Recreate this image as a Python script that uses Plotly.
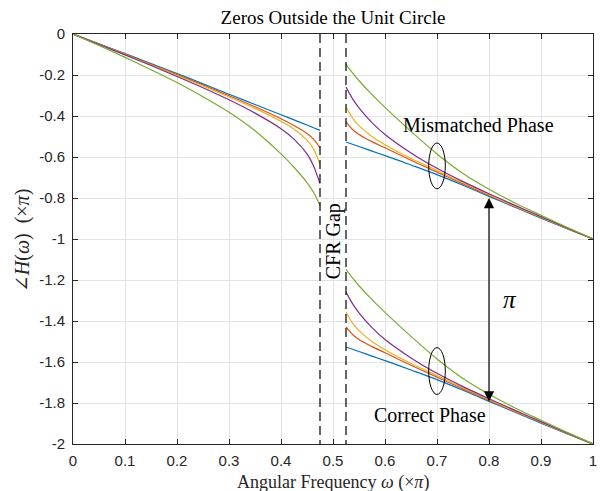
import plotly.graph_objects as go

# ---- data (phase in units of pi) ----
x_left = [0.0, 0.05, 0.1, 0.15, 0.2, 0.25, 0.3, 0.35, 0.4, 0.425, 0.45, 0.4625, 0.475]
left_blue   = [0, -0.048, -0.096, -0.144, -0.193, -0.243, -0.294, -0.344, -0.394, -0.419, -0.444, -0.457, -0.470]
left_orange = [0, -0.049, -0.098, -0.148, -0.198, -0.249, -0.301, -0.355, -0.413, -0.446, -0.485, -0.5125, -0.554]
left_yellow = [0, -0.050, -0.100, -0.151, -0.202, -0.254, -0.307, -0.363, -0.426, -0.465, -0.518, -0.5605, -0.636]
left_purple = [0, -0.051, -0.102, -0.154, -0.207, -0.262, -0.321, -0.386, -0.462, -0.513, -0.585, -0.6425, -0.730]
left_green  = [0, -0.056, -0.114, -0.174, -0.237, -0.306, -0.382, -0.472, -0.585, -0.650, -0.725, -0.772, -0.836]

x_right = [0.525, 0.5375, 0.55, 0.575, 0.6, 0.65, 0.7, 0.75, 0.8, 0.85, 0.9, 0.95, 1.0]
mis_blue   = [-0.527, -0.538, -0.549, -0.571, -0.593, -0.639, -0.686, -0.738, -0.792, -0.845, -0.898, -0.950, -1.0]
mis_orange = [-0.429, -0.466, -0.490, -0.525, -0.555, -0.616, -0.674, -0.731, -0.787, -0.842, -0.895, -0.948, -1.0]
mis_yellow = [-0.356, -0.410, -0.447, -0.500, -0.540, -0.607, -0.666, -0.726, -0.784, -0.840, -0.894, -0.947, -1.0]
mis_purple = [-0.259, -0.315, -0.360, -0.432, -0.490, -0.580, -0.655, -0.720, -0.779, -0.836, -0.891, -0.946, -1.0]
mis_green  = [-0.148, -0.190, -0.228, -0.296, -0.358, -0.475, -0.585, -0.680, -0.757, -0.824, -0.884, -0.943, -1.0]

cor_blue   = [-1.527, -1.538, -1.549, -1.571, -1.593, -1.639, -1.686, -1.738, -1.792, -1.845, -1.898, -1.950, -2.0]
cor_orange = [-1.429, -1.466, -1.490, -1.525, -1.555, -1.616, -1.674, -1.731, -1.787, -1.842, -1.895, -1.948, -2.0]
cor_yellow = [-1.356, -1.410, -1.447, -1.500, -1.540, -1.607, -1.666, -1.726, -1.784, -1.840, -1.894, -1.947, -2.0]
cor_purple = [-1.259, -1.315, -1.360, -1.432, -1.490, -1.580, -1.655, -1.720, -1.779, -1.836, -1.891, -1.946, -2.0]
cor_green  = [-1.148, -1.190, -1.228, -1.296, -1.358, -1.475, -1.585, -1.680, -1.757, -1.824, -1.884, -1.943, -2.0]

gap_edges = [0.475, 0.525]

x_ticks = [0, 0.1, 0.2, 0.3, 0.4, 0.5, 0.6, 0.7, 0.8, 0.9, 1]
x_ticktext = ["0", "0.1", "0.2", "0.3", "0.4", "0.5", "0.6", "0.7", "0.8", "0.9", "1"]
y_ticks = [0, -0.2, -0.4, -0.6, -0.8, -1, -1.2, -1.4, -1.6, -1.8, -2]
y_ticktext = ["0", "-0.2", "-0.4", "-0.6", "-0.8", "-1", "-1.2", "-1.4", "-1.6", "-1.8", "-2"]

colors = ["#0072BD", "#D95319", "#EDB120", "#7E2F8E", "#77AC30"]
left_sets = [left_blue, left_orange, left_yellow, left_purple, left_green]
mis_sets = [mis_blue, mis_orange, mis_yellow, mis_purple, mis_green]
cor_sets = [cor_blue, cor_orange, cor_yellow, cor_purple, cor_green]

fig = go.Figure()
for c, l, m, k in zip(colors, left_sets, mis_sets, cor_sets):
    for xs, ys in ((x_left, l), (x_right, m), (x_right, k)):
        fig.add_trace(go.Scatter(x=xs, y=ys, mode="lines",
                                 line=dict(color=c, width=1.2, shape="spline", smoothing=0.7),
                                 showlegend=False, hoverinfo="skip"))

for g in gap_edges:
    fig.add_trace(go.Scatter(x=[g, g], y=[0, -2], mode="lines",
                             line=dict(color="#000000", width=1.2, dash="9px,5px"),
                             showlegend=False, hoverinfo="skip"))

serif = "Liberation Serif, DejaVu Serif, serif"
sans = "Liberation Sans, Arial, sans-serif"

# ellipses
fig.add_shape(type="circle", xref="x", yref="y", x0=0.684, x1=0.716, y0=-0.755, y1=-0.532,
              line=dict(color="#000000", width=1))
fig.add_shape(type="circle", xref="x", yref="y", x0=0.684, x1=0.716, y0=-1.758, y1=-1.530,
              line=dict(color="#000000", width=1))

# double arrow
fig.add_annotation(x=0.8, y=-0.8, ax=0.8, ay=-1.8, xref="x", yref="y", axref="x", ayref="y",
                   text="", showarrow=True, arrowhead=2, startarrowhead=2, arrowside="end+start",
                   arrowsize=1.7, startarrowsize=1.7, arrowwidth=1.2, arrowcolor="#000000")

fig.add_annotation(x=0.779, y=-0.445, xref="x", yref="y", text="Mismatched Phase", showarrow=False,
                   font=dict(family=serif, size=20, color="#000000"))
fig.add_annotation(x=0.687, y=-1.86, xref="x", yref="y", text="Correct Phase", showarrow=False,
                   font=dict(family=serif, size=20, color="#000000"))
fig.add_annotation(x=0.5, y=-1.011, xref="x", yref="y", text="CFR Gap", showarrow=False, textangle=-90,
                   font=dict(family=serif, size=20, color="#000000"))
fig.add_annotation(x=0.84, y=-1.294, xref="x", yref="y", text="<i>π</i>", showarrow=False,
                   font=dict(family=serif, size=25, color="#000000"))

# axis labels
fig.add_annotation(x=0.5, y=(444 - 482) / 410, xref="paper", yref="paper",
                   text="Angular Frequency <i>ω</i> (×<i>π</i>)", showarrow=False,
                   xanchor="center", yanchor="middle",
                   font=dict(family=serif, size=18, color="#262626"))
fig.add_annotation(x=(22 - 73) / 520, y=(444 - 241) / 410, xref="paper", yref="paper",
                   text="∠<i>H</i>(<i>ω</i>)  (×<i>π</i>)", showarrow=False, textangle=-90,
                   xanchor="center", yanchor="middle",
                   font=dict(family=serif, size=20, color="#262626"))

fig.update_layout(
    width=602, height=491,
    margin=dict(l=73, r=9, t=34, b=47, autoexpand=False),
    paper_bgcolor="white", plot_bgcolor="white",
    title=dict(text="Zeros Outside the Unit Circle", x=0.5, xref="paper", y=1 - 17 / 491,
               yanchor="middle", xanchor="center",
               font=dict(family=serif, size=19, color="#000000")),
    xaxis=dict(range=[0, 1], tickvals=x_ticks, ticktext=x_ticktext, automargin=False,
               showline=True, linecolor="#262626", linewidth=1, mirror="allticks",
               ticks="inside", ticklen=5, tickcolor="#262626", ticklabelstandoff=3,
               showgrid=True, gridcolor="#e3e3e3", gridwidth=1, zeroline=False,
               tickfont=dict(family=sans, size=15, color="#262626")),
    yaxis=dict(range=[-2, 0], tickvals=y_ticks, ticktext=y_ticktext, automargin=False,
               showline=True, linecolor="#262626", linewidth=1, mirror="allticks",
               ticks="inside", ticklen=5, tickcolor="#262626", ticklabelstandoff=4,
               showgrid=True, gridcolor="#e3e3e3", gridwidth=1, zeroline=False,
               tickfont=dict(family=sans, size=15, color="#262626")),
)

fig.write_html("out.html")
